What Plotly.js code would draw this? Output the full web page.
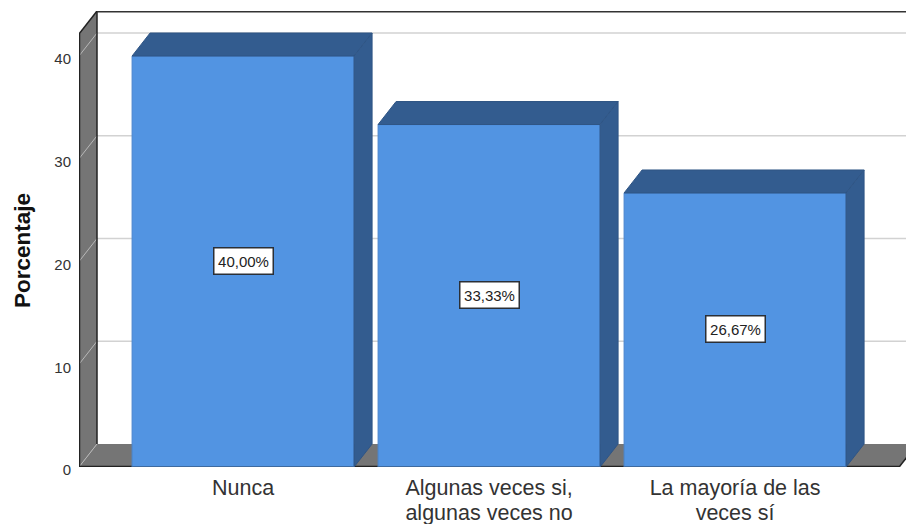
<!DOCTYPE html>
<html>
<head>
<meta charset="utf-8">
<script src="https://cdn.plot.ly/plotly-3.0.1.min.js"></script>
<style>html,body{margin:0;padding:0;background:#fff;overflow:hidden}#chart{width:906px;height:524px}</style>
</head>
<body>
<div id="chart"></div>
<script>
const categoryLine1 = ['Nunca', 'Algunas veces si,', 'La mayoría de las'];
const categoryLine2 = ['', 'algunas veces no', 'veces sí'];
const values = [40, 33.33, 26.67];
const valueLabels = ['40,00%', '33,33%', '26,67%'];
const yTicks = [0, 10, 20, 30, 40];

const L = 79, R = 0, T = 11, B = 57, W = 906, H = 524;
const pxPerCat = 246, pxPerUnit = 10.275;
const xMin = -0.667, xMax = xMin + (W - L - R) / pxPerCat;
const yMax = (H - B - T) / pxPerUnit;
const dx = 18 / pxPerCat, dy = 23 / pxPerUnit;
const barW = 222 / pxPerCat;
const wallTop = yMax - dy, floorEnd = 2.667;

const BLUE = '#5294E2', DARK = '#335C8F', GREY = '#757575', EDGE = '#222222', GRID = '#D2D2D2';
const FONT = 'Liberation Sans, Arial, sans-serif';
const idx = categoryLine1.map((_, i) => i);

function poly(xs, ys, fill, line, width) {
  return {type: 'path', xref: 'x', yref: 'y', layer: 'below',
    path: xs.map((x, i) => (i ? 'L' : 'M') + x + ',' + ys[i]).join(' ') + ' Z',
    fillcolor: fill, line: {color: line, width: width}};
}
function seg(x0, y0, x1, y1, color, width) {
  return {type: 'line', xref: 'x', yref: 'y', layer: 'below', x0, y0, x1, y1,
    line: {color: color, width: width}};
}

const shapes = [];
shapes.push(poly([xMin, xMin + dx, xMin + dx, xMin], [0, dy, yMax, wallTop], GREY, 'rgba(0,0,0,0)', 0));
shapes.push(poly([xMin, xMin + dx, floorEnd + dx, floorEnd], [0, dy, dy, 0], GREY, 'rgba(0,0,0,0)', 0));
yTicks.forEach(t => {
  if (t > 0) shapes.push(seg(xMin + dx, t + dy, xMax, t + dy, GRID, 1.5));
  shapes.push(seg(xMin, t, xMin + dx, t + dy, '#B8B8B8', 1));
});
shapes.push(seg(xMin + dx, dy, xMin + dx, yMax, EDGE, 1.5));
shapes.push(seg(xMin, 0, xMin, wallTop, EDGE, 2.5));
shapes.push(seg(xMin, wallTop, xMin + dx, yMax, EDGE, 1.5));
shapes.push(seg(xMin + dx, yMax - 0.05, xMax, yMax - 0.05, '#333333', 2));
shapes.push(seg(xMin, 0, floorEnd, 0, EDGE, 2.5));
shapes.push(seg(floorEnd, 0, floorEnd + dx, dy, EDGE, 1.5));

const skip = {hoverinfo: 'skip', showlegend: false};
const traces = [Object.assign({
  type: 'bar', x: idx, y: values, width: barW,
  marker: {color: BLUE, line: {color: '#4A86CE', width: 1}}
}, skip)];
idx.forEach(i => {
  const x0 = i - barW / 2, x1 = i + barW / 2, v = values[i];
  traces.push(Object.assign({type: 'scatter', mode: 'lines', fill: 'toself', fillcolor: DARK,
    x: [x0, x0 + dx, x1 + dx, x1, x0], y: [v, v + dy, v + dy, v, v],
    line: {color: '#2F5585', width: 1}}, skip));
  traces.push(Object.assign({type: 'scatter', mode: 'lines', fill: 'toself', fillcolor: DARK,
    x: [x1, x1 + dx, x1 + dx, x1, x1], y: [0, dy, v + dy, v, 0],
    line: {color: '#2F5585', width: 1}}, skip));
  traces.push(Object.assign({type: 'scatter', mode: 'lines', cliponaxis: false,
    x: [x0, x1], y: [0, 0], line: {color: '#3E6A9F', width: 2}}, skip));
});
// carries the second line of the category labels on its own overlaid axis
traces.push(Object.assign({type: 'scatter', mode: 'markers', xaxis: 'x2', x: idx, y: values,
  marker: {opacity: 0, size: 1}}, skip));

const annotations = idx.map(i => ({
  x: i, y: values[i] / 2, xref: 'x', yref: 'y', yshift: 1, text: valueLabels[i], showarrow: false,
  font: {family: FONT, size: 15, color: '#222'},
  bgcolor: '#FFFFFF', bordercolor: '#2A2F36', borderwidth: 1.5, borderpad: 2,
  width: 54, height: 21, align: 'center', valign: 'middle'
}));
annotations.push({
  text: '<b>Porcentaje</b>', textangle: -90, showarrow: false,
  xref: 'paper', yref: 'paper', xanchor: 'center', yanchor: 'middle',
  x: (22 - L) / (W - L - R), y: (H - B - 250) / (H - B - T),
  font: {family: FONT, size: 22.5, color: '#111'}
});

const xCommon = {range: [xMin, xMax], tickvals: idx, showgrid: false, zeroline: false, showline: false,
  ticks: 'outside', tickcolor: 'rgba(0,0,0,0)', tickfont: {family: FONT, size: 21.5, color: '#333'}, fixedrange: true};

const layout = {
  width: W, height: H,
  margin: {l: L, r: R, t: T, b: B, pad: 0},
  paper_bgcolor: '#FFFFFF', plot_bgcolor: '#FFFFFF',
  showlegend: false, bargap: 0,
  font: {family: FONT, color: '#333'},
  xaxis: Object.assign({}, xCommon, {ticktext: categoryLine1, ticklen: 1}),
  xaxis2: Object.assign({}, xCommon, {ticktext: categoryLine2, ticklen: 26, overlaying: 'x', anchor: 'y', side: 'bottom'}),
  yaxis: {range: [0, yMax], tickvals: yTicks, ticktext: yTicks.map(String), showgrid: false, zeroline: false,
    showline: false, ticks: 'outside', ticklen: 4, tickcolor: 'rgba(0,0,0,0)', ticklabelshift: 3,
    tickfont: {size: 15, color: '#333'}, fixedrange: true},
  shapes: shapes,
  annotations: annotations
};
Plotly.newPlot('chart', traces, layout, {displayModeBar: false, staticPlot: true});
</script>
</body>
</html>
